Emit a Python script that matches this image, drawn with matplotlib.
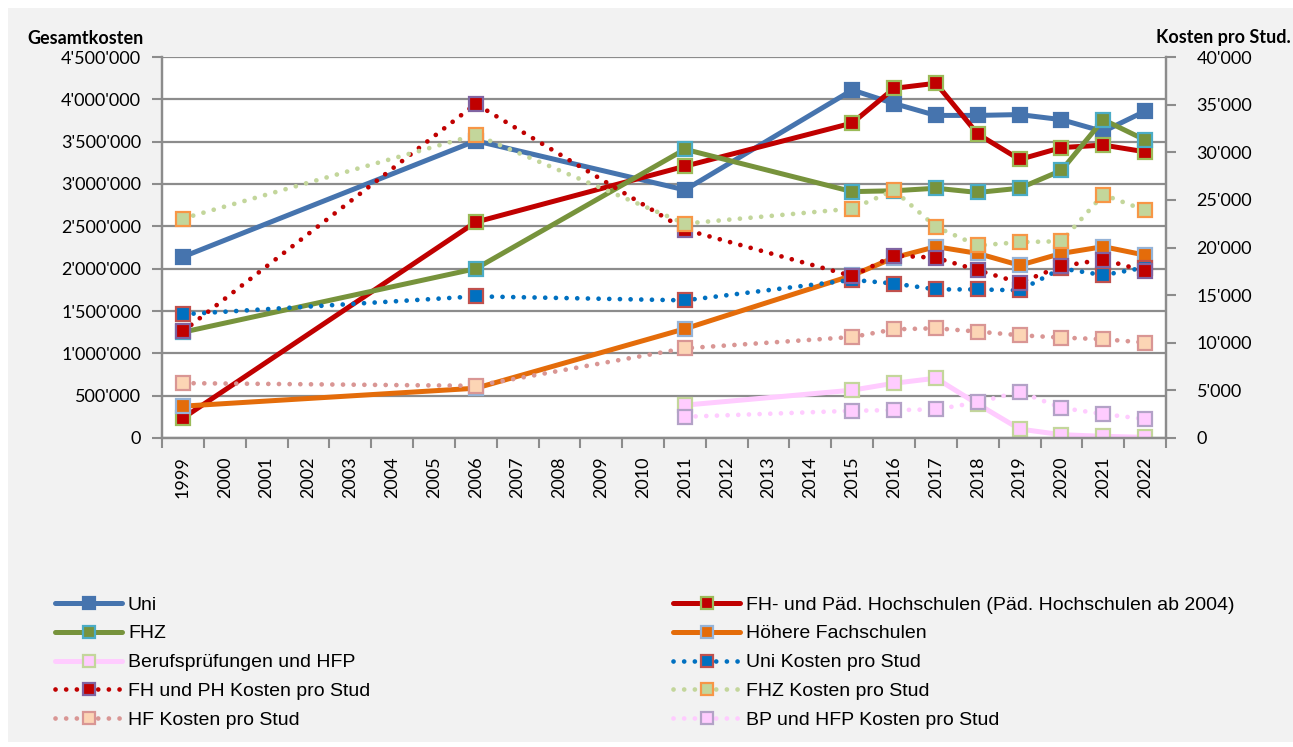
import numpy as np
import matplotlib
matplotlib.use("Agg")
import matplotlib.pyplot as plt
from matplotlib.ticker import FuncFormatter, FixedLocator
from matplotlib.patches import Rectangle

# Kategorien (x-Achse)
years = list(range(1999, 2023))
data_years = [1999, 2006, 2011, 2015, 2016, 2017, 2018, 2019, 2020, 2021, 2022]
bp_years = [2011, 2015, 2016, 2017, 2018, 2019, 2020, 2021, 2022]

# Gesamtkosten (linke Achse)
uni = [2140000, 3510000, 2930000, 4110000, 3950000, 3810000, 3810000, 3820000, 3760000, 3620000, 3860000]
fh = [235000, 2550000, 3210000, 3720000, 4130000, 4190000, 3590000, 3290000, 3430000, 3460000, 3380000]
fhz = [1250000, 2000000, 3410000, 2910000, 2920000, 2950000, 2900000, 2950000, 3160000, 3760000, 3520000]
hf = [376000, 588000, 1290000, 1920000, 2130000, 2260000, 2180000, 2040000, 2180000, 2260000, 2160000]
bp = [388000, 565000, 647000, 706000, 400000, 106000, 39000, 20000, 8000]

# Kosten pro Stud (rechte Achse)
uni_stud = [12990, 14870, 14450, 16600, 16220, 15600, 15600, 15500, 17800, 17100, 17900]
fh_stud = [11200, 35080, 21880, 17000, 19160, 18920, 17620, 16300, 18040, 18740, 17520]
fhz_stud = [23040, 31830, 22510, 24080, 26000, 22170, 20210, 20560, 20660, 25550, 23910]
hf_stud = [5760, 5480, 9420, 10600, 11410, 11520, 11170, 10790, 10540, 10370, 10020]
bp_stud = [2230, 2860, 2930, 3000, 3740, 4850, 3170, 2510, 1990]


def idx(ys):
    return [years.index(y) for y in ys]


def fmt(v, pos):
    return f"{v:,.0f}".replace(",", "'")


plt.rcParams['font.family'] = ['Lato', 'DejaVu Sans']

fig = plt.figure(figsize=(12.93, 7.47), dpi=100)
fig.patch.set_facecolor("white")
fig.patches.append(Rectangle((8 / 1293, 5 / 747), 1285 / 1293, 734 / 747,
                             transform=fig.transFigure, facecolor="#F2F2F2",
                             edgecolor="none", zorder=-10))

ax = fig.add_axes([162 / 1293, 1 - 438 / 747, (1166 - 162) / 1293, (438 - 57) / 747])
ax.set_facecolor("white")
ax2 = ax.twinx()

grey = "#8C8C8C"
solid = dict(lw=3.6, marker="s", markersize=10, markeredgewidth=1.6,
             solid_capstyle="round")
dotted = dict(lw=3.4, marker="s", markersize=10, markeredgewidth=1.6,
              linestyle=(0, (0.01, 2.25)), dash_capstyle="round")

h_uni, = ax.plot(idx(data_years), uni, color="#4674AE", mfc="#4674AE", mec="#4674AE",
                 label="Uni", **solid)
h_fh, = ax.plot(idx(data_years), fh, color="#C00000", mfc="#C00000", mec="#9BBB59",
                label="FH- und Päd. Hochschulen (Päd. Hochschulen ab 2004)", **solid)
h_fhz, = ax.plot(idx(data_years), fhz, color="#77933C", mfc="#77933C", mec="#4BACC6",
                 label="FHZ", **solid)
h_hf, = ax.plot(idx(data_years), hf, color="#E46C0A", mfc="#E46C0A", mec="#95B3D7",
                label="Höhere Fachschulen", **solid)
h_bp, = ax.plot(idx(bp_years), bp, color="#FFCCFF", mfc="#FFCCFF", mec="#C3D69B",
                label="Berufsprüfungen und HFP", **solid)

h_unis, = ax2.plot(idx(data_years), uni_stud, color="#0070C0", mfc="#0070C0", mec="#C0504D",
                   label="Uni Kosten pro Stud", **dotted)
h_fhs, = ax2.plot(idx(data_years), fh_stud, color="#C00000", mfc="#C00000", mec="#8064A2",
                  label="FH und PH Kosten pro Stud", **dotted)
h_fhzs, = ax2.plot(idx(data_years), fhz_stud, color="#C3D69B", mfc="#C3D69B", mec="#F79646",
                   label="FHZ Kosten pro Stud", **dotted)
h_hfs, = ax2.plot(idx(data_years), hf_stud, color="#D99694", mfc="#FCD5B5", mec="#D99694",
                  label="HF Kosten pro Stud", **dotted)
h_bps, = ax2.plot(idx(bp_years), bp_stud, color="#FFCCFF", mfc="#FFCCFF", mec="#B3A2C7",
                  label="BP und HFP Kosten pro Stud", **dotted)

# Achsen
ax.set_xlim(-0.5, len(years) - 0.5)
ax.set_ylim(0, 4500000)
ax.set_yticks(np.arange(0, 4500001, 500000))
ax.yaxis.set_major_formatter(FuncFormatter(fmt))
ax2.set_ylim(0, 40000)
ax2.set_yticks(np.arange(0, 40001, 5000))
ax2.yaxis.set_major_formatter(FuncFormatter(fmt))

ax.set_xticks(range(len(years)))
ax.set_xticklabels([str(y) for y in years], rotation=90)
ax.xaxis.set_minor_locator(FixedLocator(np.arange(-0.5, len(years), 1)))
ax.tick_params(axis="x", which="major", length=0, pad=13, labelsize=13)
ax.tick_params(axis="x", which="minor", length=7, width=1.5, color=grey)
ax.tick_params(axis="y", length=7, width=1.5, color=grey, pad=8, labelsize=13)
ax2.tick_params(axis="y", length=7, width=1.5, color=grey, pad=15, labelsize=13)

ax.grid(axis="y", color=grey, lw=1.6)
ax.set_axisbelow(True)
for a in (ax, ax2):
    a.spines["top"].set_visible(False)
    for s in ("left", "bottom", "right"):
        a.spines[s].set_color(grey)
        a.spines[s].set_linewidth(1.6)
ax2.patch.set_visible(False)

fig.text(27 / 1293, 1 - 38 / 747, "Gesamtkosten", fontsize=13, fontweight="bold",
         ha="left", va="center")
fig.text(1291 / 1293, 1 - 38 / 747, "Kosten pro Stud.", fontsize=13, fontweight="bold",
         ha="right", va="center")

# Legende in zwei Spalten
leg_kw = dict(frameon=False, loc="upper left", borderpad=0, borderaxespad=0,
              handlelength=3.45, handletextpad=0.3, labelspacing=0.58,
              markerscale=0.8, numpoints=1,
              prop={"family": "Liberation Sans", "size": 14})
leg1 = fig.legend([h_uni, h_fhz, h_bp, h_fhs, h_hfs],
                  [h.get_label() for h in [h_uni, h_fhz, h_bp, h_fhs, h_hfs]],
                  bbox_to_anchor=(55 / 1293, 1 - 596 / 747), **leg_kw)
leg2 = fig.legend([h_fh, h_hf, h_unis, h_fhzs, h_bps],
                  [h.get_label() for h in [h_fh, h_hf, h_unis, h_fhzs, h_bps]],
                  bbox_to_anchor=(673 / 1293, 1 - 596 / 747), **leg_kw)

fig.savefig("out.png", dpi=100, facecolor=fig.get_facecolor())
